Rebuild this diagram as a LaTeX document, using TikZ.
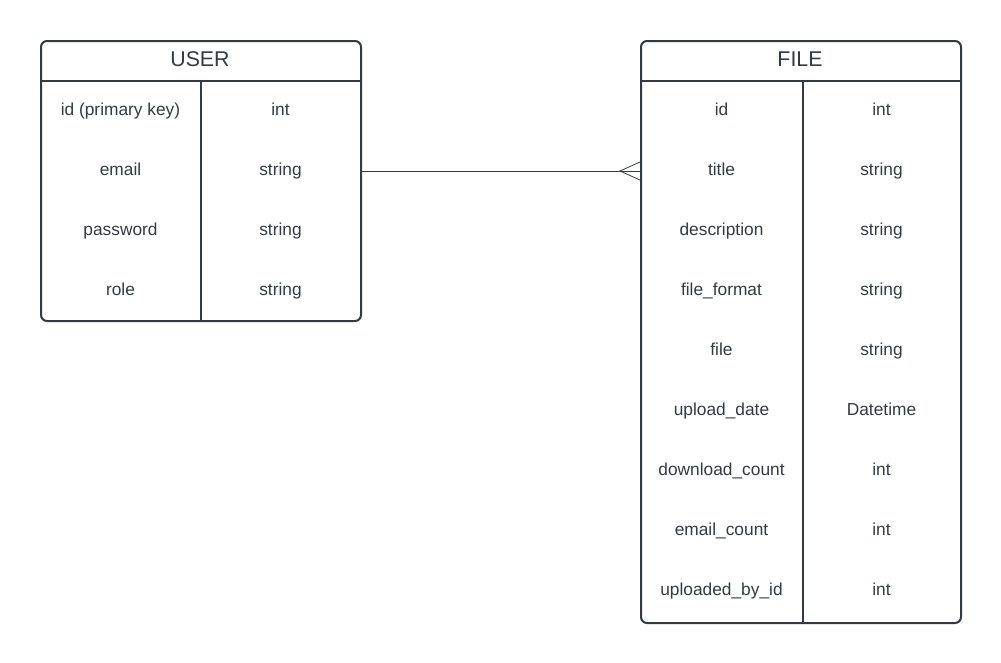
\documentclass[tikz,border=0pt]{standalone}
\usepackage{fontspec}
\setmainfont{Liberation Sans}
\usetikzlibrary{calc}
\definecolor{ink}{HTML}{333A45}

\begin{document}
\begin{tikzpicture}[
    x=0.75pt, y=-0.75pt,
    tbl/.style={draw=ink, line width=1.5pt, rounded corners=4.5pt, inner sep=0pt, anchor=north west},
    head/.style={font=\fontsize{16}{19}\selectfont, text=ink},
    cell/.style={font=\fontsize{13}{16}\selectfont, text=ink, text height=1.6ex, text depth=0.45ex},
    rule/.style={draw=ink, line width=1.5pt},
    link/.style={draw=ink, line width=0.6pt},
  ]
  \useasboundingbox (0,0) rectangle (1001,662);
  % USER table
  \node[tbl, minimum width=240pt, minimum height=210pt] (user) at (40,40) {};
  \node[head] (utitle) at (200,59) {USER};
  \draw[rule] (user.west |- 0,81) -- (user.east |- 0,81);
  \draw[rule] (201,81) -- (201,320);
  \foreach \name/\type [count=\i] in {id (primary key)/int, email/string, password/string, role/string} {
    \node[cell] (uname\i) at (120.5,51.5+60*\i) {\name};
    \node[cell] (utype\i) at (280.5,51.5+60*\i) {\type};
  }
  % FILE table
  \node[tbl, minimum width=240pt, minimum height=436.5pt] (file) at (640,40) {};
  \node[head] (ftitle) at (800,59) {FILE};
  \draw[rule] (file.west |- 0,81) -- (file.east |- 0,81);
  \draw[rule] (803,81) -- (803,622);
  \foreach \name/\type [count=\i] in {id/int, title/string, description/string, file\_format/string, file/string,
      upload\_date/Datetime, download\_count/int, email\_count/int, uploaded\_by\_id/int} {
    \node[cell] (fname\i) at (721.5,51.5+60*\i) {\name};
    \node[cell] (ftype\i) at (881.5,51.5+60*\i) {\type};
  }
  % one user, many files
  \coordinate (uend) at ($(user.east |- 0,171)+(-2,0)$);
  \coordinate (fend) at (file.west |- 0,171);
  \coordinate (fork) at ($(fend)+(-20,0)$);
  \draw[link] (uend) -- (fend);
  \draw[link] ($(fend)+(0,-9)$) -- (fork) -- ($(fend)+(0,9)$);
\end{tikzpicture}
\end{document}
